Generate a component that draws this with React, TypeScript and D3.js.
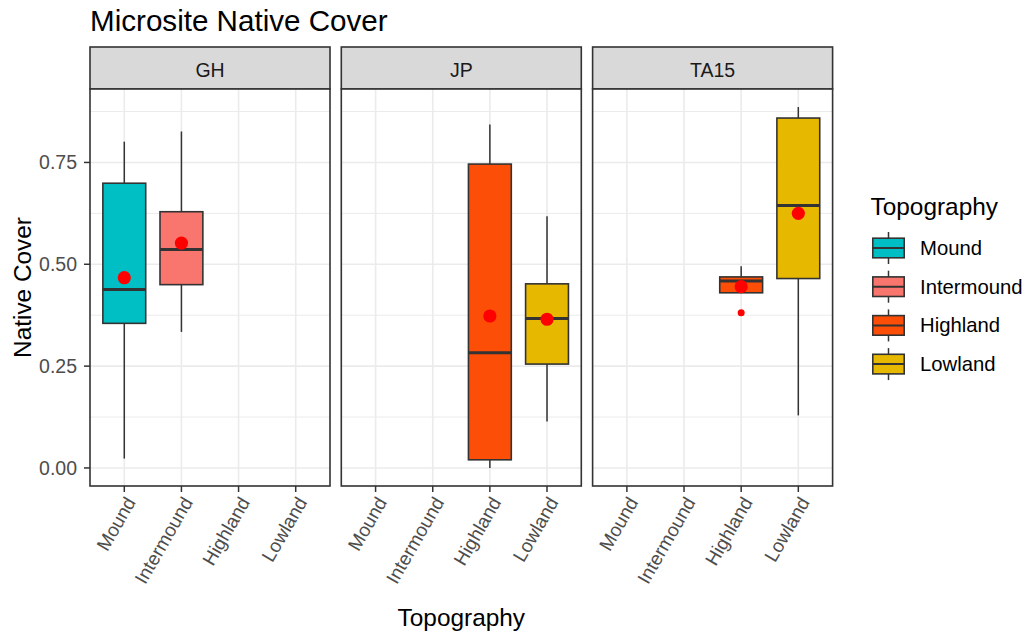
import React from "react";
import * as d3 from "d3";

// Facets, categories and fill colours
const sites = ["GH", "JP", "TA15"];
const topographies = ["Mound", "Intermound", "Highland", "Lowland"];
const topoColors = ["#00BFC4", "#F8766D", "#FC4E07", "#E7B800"];

// Box summaries, one entry per (site, topography) box
const boxSite = ["GH", "GH", "JP", "JP", "TA15", "TA15"];
const boxTopo = ["Mound", "Intermound", "Highland", "Lowland", "Highland", "Lowland"];
const whiskerLow = [0.023, 0.334, 0.0, 0.114, 0.43, 0.129];
const q1 = [0.355, 0.45, 0.02, 0.255, 0.43, 0.465];
const median = [0.438, 0.536, 0.283, 0.367, 0.459, 0.644];
const q3 = [0.699, 0.629, 0.746, 0.452, 0.469, 0.859];
const whiskerHigh = [0.801, 0.826, 0.843, 0.618, 0.495, 0.886];
const meanCover = [0.467, 0.552, 0.373, 0.365, 0.445, 0.625];

// Outlying observations
const outlierSite = ["TA15"];
const outlierTopo = ["Highland"];
const outlierValue = [0.381];

// Axis ticks
const yTicks = [0, 0.25, 0.5, 0.75];
const yMinorTicks = [0.125, 0.375, 0.625, 0.875];
const yTickLabels = ["0.00", "0.25", "0.50", "0.75"];

const FONT = "'Liberation Sans', Arial, sans-serif";
const W = 1032;
const H = 636;
const panelLeft = 90;
const panelW = 240;
const panelGap = 11.3;
const stripTop = 47;
const panelTop = 89;
const panelBottom = 486;
const INK = "#333333";
const GRID = "#EBEBEB";

export default function App() {
  const lo = Math.min(d3.min(whiskerLow)!, d3.min(outlierValue)!);
  const hi = Math.max(d3.max(whiskerHigh)!, d3.max(outlierValue)!);
  const pad = (hi - lo) * 0.05;
  const y = d3.scaleLinear().domain([lo - pad, hi + pad]).range([panelBottom, panelTop]);
  const x = d3.scalePoint<string>().domain(topographies).range([0, panelW]).padding(0.6);
  const boxW = x.step() * 0.75;
  const color = d3.scaleOrdinal<string, string>().domain(topographies).range(topoColors);
  const siteX = d3
    .scaleOrdinal<string, number>()
    .domain(sites)
    .range(sites.map((_, i) => panelLeft + i * (panelW + panelGap)));

  const boxes = boxSite.map((s, i) => ({
    site: s,
    topo: boxTopo[i],
    lo: whiskerLow[i],
    q1: q1[i],
    med: median[i],
    q3: q3[i],
    hi: whiskerHigh[i],
    mean: meanCover[i],
  }));

  const legendX = 869;
  const legendRow0 = 248;
  const legendStep = 38.7;

  return (
    <svg
      width={W}
      height={H}
      style={{ position: "absolute", left: 0, top: 0, background: "#fff" }}
      fontFamily={FONT}
    >
      <rect width={W} height={H} fill="#fff" />
      <text x={panelLeft} y={30.5} fontSize={29.6} fill="#000">
        Microsite Native Cover
      </text>

      {sites.map((site) => {
        const px = siteX(site);
        return (
          <g key={site}>
            {/* strip */}
            <rect
              x={px}
              y={stripTop}
              width={panelW}
              height={panelTop - stripTop}
              fill="#D9D9D9"
              stroke={INK}
              strokeWidth={1.6}
            />
            <text
              x={px + panelW / 2}
              y={77}
              fontSize={19.5}
              fill="#1A1A1A"
              textAnchor="middle"
            >
              {site}
            </text>
            {/* panel background and grid */}
            <rect x={px} y={panelTop} width={panelW} height={panelBottom - panelTop} fill="#fff" />
            {yMinorTicks.map((t) => (
              <line key={"mn" + t} x1={px} x2={px + panelW} y1={y(t)} y2={y(t)} stroke={GRID} strokeWidth={1} />
            ))}
            {yTicks.map((t) => (
              <line key={"mj" + t} x1={px} x2={px + panelW} y1={y(t)} y2={y(t)} stroke={GRID} strokeWidth={1.6} />
            ))}
            {topographies.map((tp) => (
              <line
                key={"vx" + tp}
                x1={px + x(tp)!}
                x2={px + x(tp)!}
                y1={panelTop}
                y2={panelBottom}
                stroke={GRID}
                strokeWidth={1.6}
              />
            ))}
            {/* boxes */}
            {boxes
              .filter((b) => b.site === site)
              .map((b) => {
                const cx = px + x(b.topo)!;
                return (
                  <g key={b.topo}>
                    <line x1={cx} x2={cx} y1={y(b.hi)} y2={y(b.q3)} stroke={INK} strokeWidth={1.5} />
                    <line x1={cx} x2={cx} y1={y(b.q1)} y2={y(b.lo)} stroke={INK} strokeWidth={1.5} />
                    <rect
                      x={cx - boxW / 2}
                      y={y(b.q3)}
                      width={boxW}
                      height={y(b.q1) - y(b.q3)}
                      fill={color(b.topo)}
                      stroke={INK}
                      strokeWidth={1.6}
                    />
                    <line
                      x1={cx - boxW / 2}
                      x2={cx + boxW / 2}
                      y1={y(b.med)}
                      y2={y(b.med)}
                      stroke={INK}
                      strokeWidth={3}
                    />
                  </g>
                );
              })}
            {outlierSite.map((s, i) =>
              s === site ? (
                <circle key={"o" + i} cx={px + x(outlierTopo[i])!} cy={y(outlierValue[i])} r={3.5} fill="#FF0000" />
              ) : null
            )}
            {boxes
              .filter((b) => b.site === site)
              .map((b) => (
                <circle key={"m" + b.topo} cx={px + x(b.topo)!} cy={y(b.mean)} r={6.6} fill="#FF0000" />
              ))}
            {/* panel border */}
            <rect
              x={px}
              y={panelTop}
              width={panelW}
              height={panelBottom - panelTop}
              fill="none"
              stroke={INK}
              strokeWidth={1.6}
            />
            {/* x ticks and rotated labels */}
            {topographies.map((tp) => {
              const tx = px + x(tp)!;
              return (
                <g key={"xt" + tp}>
                  <line x1={tx} x2={tx} y1={panelBottom} y2={panelBottom + 6} stroke={INK} strokeWidth={1.5} />
                  <text
                    transform={`translate(${tx + 12},${panelBottom + 16}) rotate(-60)`}
                    fontSize={19}
                    fill="#4D4D4D"
                    textAnchor="end"
                  >
                    {tp}
                  </text>
                </g>
              );
            })}
          </g>
        );
      })}

      {/* y axis */}
      {yTicks.map((t, i) => (
        <g key={"yt" + t}>
          <line x1={panelLeft - 6} x2={panelLeft} y1={y(t)} y2={y(t)} stroke={INK} strokeWidth={1.5} />
          <text x={77} y={y(t) + 7} fontSize={19.5} fill="#4D4D4D" textAnchor="end">
            {yTickLabels[i]}
          </text>
        </g>
      ))}
      <text
        transform={`translate(31,${(panelTop + panelBottom) / 2}) rotate(-90)`}
        fontSize={24.4}
        fill="#000"
        textAnchor="middle"
      >
        Native Cover
      </text>
      <text
        x={(panelLeft + siteX(sites[sites.length - 1]) + panelW) / 2}
        y={626}
        fontSize={24.4}
        fill="#000"
        textAnchor="middle"
      >
        Topography
      </text>

      {/* legend */}
      <text x={870.5} y={215} fontSize={24.4} fill="#000">
        Topography
      </text>
      {topographies.map((tp, i) => {
        const cy = legendRow0 + i * legendStep;
        const cx = legendX + 19.5;
        return (
          <g key={"lg" + tp}>
            <line x1={cx} x2={cx} y1={cy - 16} y2={cy + 16} stroke={INK} strokeWidth={1.5} />
            <rect
              x={cx - 15.7}
              y={cy - 9.8}
              width={31.4}
              height={19.6}
              fill={color(tp)}
              stroke={INK}
              strokeWidth={1.6}
            />
            <line x1={cx - 15.7} x2={cx + 15.7} y1={cy} y2={cy} stroke={INK} strokeWidth={2} />
            <text x={920} y={cy + 7} fontSize={20.3} fill="#000">
              {tp}
            </text>
          </g>
        );
      })}
    </svg>
  );
}
